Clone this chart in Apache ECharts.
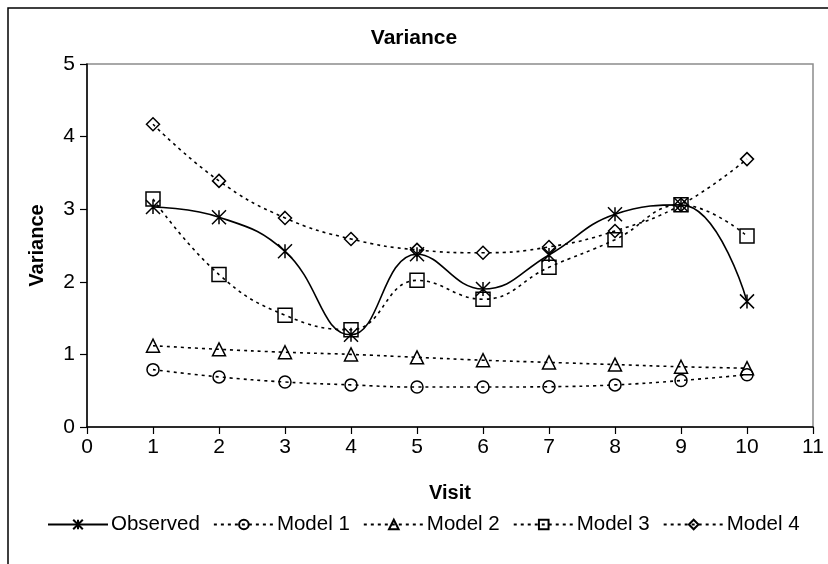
<!DOCTYPE html>
<html><head><meta charset="utf-8">
<script src="https://cdn.jsdelivr.net/npm/echarts@6/dist/echarts.min.js"></script>
<style>html,body{margin:0;padding:0;background:#fff}#c{width:828px;height:564px}</style>
</head><body><div id="c"></div>
<script>
const visits = [1,2,3,4,5,6,7,8,9,10];
const xTicks = [0,1,2,3,4,5,6,7,8,9,10,11];
const yTicks = [0,1,2,3,4,5];
const observed = [3.03, 2.89, 2.42, 1.27, 2.38, 1.90, 2.37, 2.93, 3.06, 1.73];
const model1 = [0.79, 0.69, 0.62, 0.58, 0.55, 0.55, 0.555, 0.58, 0.64, 0.72];
const model2 = [1.12, 1.07, 1.03, 1.00, 0.96, 0.92, 0.89, 0.86, 0.83, 0.81];
const model3 = [3.14, 2.10, 1.54, 1.34, 2.02, 1.76, 2.20, 2.58, 3.06, 2.63];
const model4 = [4.17, 3.39, 2.88, 2.59, 2.44, 2.40, 2.48, 2.70, 3.06, 3.69];

const FONT = '"Liberation Sans", Arial, sans-serif';
const starPath = 'path://M5,0L5,10M0,0L10,10M0,10L10,0';
function mk(name, vals, symbol, size, dashed) {
  return {
    name, type: 'line', smooth: 0.45,
    data: visits.map((v, i) => [v, vals[i]]),
    symbol, symbolSize: size, showSymbol: true,
    lineStyle: { color: '#000', width: 1.6, type: dashed ? [3, 4] : 'solid' },
    itemStyle: { color: 'rgba(255,255,255,0)', borderColor: '#000', borderWidth: 1.5 },
    emphasis: { disabled: true }, z: 3
  };
}
const chart = echarts.init(document.getElementById('c'), null, { renderer: 'canvas' });
chart.setOption({
  animation: false,
  backgroundColor: '#fff',
  textStyle: { fontFamily: FONT, color: '#000' },
  title: { text: 'Variance', left: 'center', top: 23,
    textStyle: { fontFamily: FONT, fontSize: 21, fontWeight: 'bold', color: '#000' } },
  graphic: [{ type: 'rect', shape: { x: 8, y: 8, width: 840, height: 580 },
    style: { fill: 'none', stroke: '#000', lineWidth: 1.5 }, silent: true, z: -1 }],
  grid: { left: 87, right: 15, top: 64, bottom: 137, show: true, borderColor: '#8c8c8c', borderWidth: 1.5, backgroundColor: 'transparent' },
  xAxis: { type: 'value', min: xTicks[0], max: xTicks[xTicks.length - 1], interval: 1,
    name: 'Visit', nameLocation: 'middle', nameGap: 56,
    nameTextStyle: { fontFamily: FONT, fontSize: 20, fontWeight: 'bold', color: '#000' },
    axisLine: { show: true, onZero: false, lineStyle: { color: '#000', width: 1.5 } },
    axisTick: { show: true, inside: false, length: 7, lineStyle: { color: '#000', width: 1.2 } },
    axisLabel: { fontFamily: FONT, fontSize: 21, color: '#000', margin: 10 },
    splitLine: { show: false } },
  yAxis: { type: 'value', min: yTicks[0], max: yTicks[yTicks.length - 1], interval: 1,
    name: 'Variance', nameLocation: 'middle', nameGap: 40,
    nameTextStyle: { fontFamily: FONT, fontSize: 20, fontWeight: 'bold', color: '#000' },
    axisLine: { show: true, lineStyle: { color: '#000', width: 1.5 } },
    axisTick: { show: true, inside: false, length: 7, lineStyle: { color: '#000', width: 1.2 } },
    axisLabel: { fontFamily: FONT, fontSize: 21, color: '#000', margin: 12 },
    splitLine: { show: false } },
  legend: { bottom: 24, left: 42, itemWidth: 60, itemHeight: 12, itemGap: 13,
    textStyle: { fontFamily: FONT, fontSize: 20.5, color: '#000', padding: [0, 0, 0, -2] },
    data: ['Observed', 'Model 1', 'Model 2', 'Model 3', 'Model 4'] },
  series: [
    mk('Observed', observed, starPath, 14, false),
    mk('Model 1', model1, 'circle', 12, true),
    mk('Model 2', model2, 'triangle', 13, true),
    mk('Model 3', model3, 'rect', 14, true),
    mk('Model 4', model4, 'diamond', 13, true)
  ]
});
</script></body></html>
